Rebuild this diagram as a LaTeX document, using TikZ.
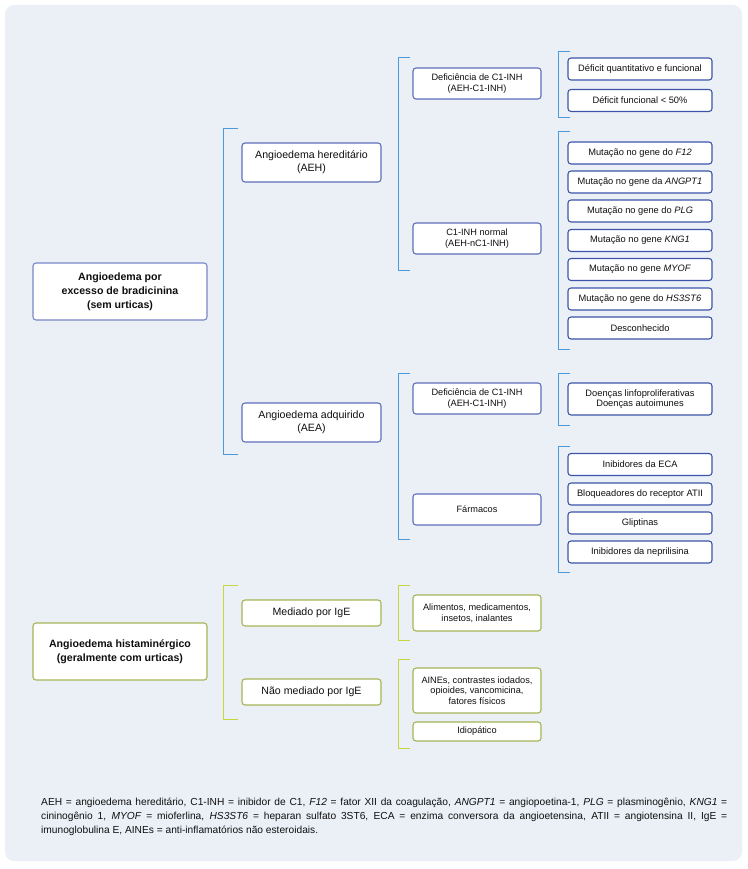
\documentclass[tikz,border=0pt]{standalone}
\usepackage{fontspec}
\setmainfont{Liberation Sans}
\definecolor{bg}{RGB}{235,240,247}
\definecolor{bluebox}{RGB}{95,110,185}
\definecolor{bluebox0}{RGB}{120,135,200}
\definecolor{bluebox3}{RGB}{60,85,170}
\definecolor{bluebr}{RGB}{75,155,220}
\definecolor{greenbox}{RGB}{165,180,85}
\definecolor{greenbr}{RGB}{198,214,62}
\definecolor{txt}{RGB}{15,15,15}
\tikzset{
  base/.style={fill=white, rounded corners=3pt, line width=1.1pt, align=center, inner sep=0pt, text=txt},
  lzero/.style={base, draw=bluebox0, minimum width=174pt, minimum height=57pt, font=\fontsize{10.6}{14}\selectfont\bfseries},
  lzerog/.style={base, draw=greenbox, minimum width=174pt, minimum height=57pt, font=\fontsize{10.6}{14}\selectfont\bfseries},
  lone/.style={base, draw=bluebox, minimum width=139pt, minimum height=39pt, font=\fontsize{10.6}{13.3}\selectfont},
  loneg/.style={base, draw=greenbox, minimum width=139pt, minimum height=26pt, font=\fontsize{10.6}{13.3}\selectfont},
  ltwo/.style={base, draw=bluebox, minimum width=128pt, minimum height=31pt, font=\fontsize{9.2}{10.7}\selectfont},
  ltwog/.style={base, draw=greenbox, minimum width=128pt, font=\fontsize{9.2}{10.7}\selectfont},
  lthree/.style={base, draw=bluebox3, minimum width=144pt, minimum height=22pt, font=\fontsize{9.3}{10.7}\selectfont},
  brb/.style={draw=bluebr, line width=1pt},
  brg/.style={draw=greenbr, line width=1pt},
}
% bracket: name, x, top, bottom, tick-end x, style
\newcommand{\mybrk}[6]{%
  \coordinate (#1a) at (#5,#3);
  \coordinate (#1b) at (#2,#3);
  \coordinate (#1c) at (#2,#4);
  \coordinate (#1d) at (#5,#4);
  \draw[#6] (#1a) -- (#1b) -- (#1c) -- (#1d);}
\begin{document}
\begin{tikzpicture}[x=1pt,y=-1pt]
\useasboundingbox (0,0) rectangle (747,869);
\fill[bg, rounded corners=9pt] (5,5) rectangle (742,861);

% level 0
\node[lzero] (bradi) at (120,291.5) {Angioedema por\\excesso de bradicinina\\(sem urticas)};
\node[lzerog] (hist) at (120,651.5) {Angioedema histaminérgico\\(geralmente com urticas)};

% level 1
\node[lone] (aeh) at (311.5,162.5) {Angioedema hereditário\\(AEH)};
\node[lone] (aea) at (311.5,422.5) {Angioedema adquirido\\(AEA)};
\node[loneg] (med) at (311.5,613) {Mediado por IgE};
\node[loneg] (nmed) at (311.5,692) {Não mediado por IgE};

% level 2
\node[ltwo] (defaeh) at (477,83.5) {Deficiência de C1-INH\\(AEH-C1-INH)};
\node[ltwo] (normal) at (477,238.5) {C1-INH normal\\(AEH-nC1-INH)};
\node[ltwo] (defaea) at (477,398.5) {Deficiência de C1-INH\\(AEH-C1-INH)};
\node[ltwo] (farm) at (477,509.5) {Fármacos};
\node[ltwog, minimum height=36pt] (alim) at (477,613) {Alimentos, medicamentos,\\insetos, inalantes};
\node[ltwog, minimum height=45pt] (aines) at (477,690.5) {AINEs, contrastes iodados,\\opioides, vancomicina,\\fatores físicos};
\node[ltwog, minimum height=19pt] (idio) at (477,731.5) {Idiopático};

% level 3
\node[lthree] (quant) at (640,69) {Déficit quantitativo e funcional};
\node[lthree] (func) at (640,100.5) {Déficit funcional < 50\%};
\node[lthree] (mf) at (640,153) {Mutação no gene do \textit{F12}};
\node[lthree] (ma) at (640,182) {Mutação no gene da \textit{ANGPT1}};
\node[lthree] (mp) at (640,211) {Mutação no gene do \textit{PLG}};
\node[lthree] (mk) at (640,240.5) {Mutação no gene \textit{KNG1}};
\node[lthree] (mm) at (640,269.5) {Mutação no gene \textit{MYOF}};
\node[lthree] (mh) at (640,299) {Mutação no gene do \textit{HS3ST6}};
\node[lthree] (desc) at (640,328) {Desconhecido};
\node[lthree, minimum height=32pt] (doen) at (640,399) {Doenças linfoproliferativas\\Doenças autoimunes};
\node[lthree] (eca) at (640,464.5) {Inibidores da ECA};
\node[lthree] (bloq) at (640,494) {Bloqueadores do receptor ATII};
\node[lthree] (glip) at (640,523) {Gliptinas};
\node[lthree] (nepr) at (640,552) {Inibidores da neprilisina};

% brackets
\mybrk{bA}{223}{129}{454}{238}{brb}
\mybrk{bB}{398}{58}{270}{410}{brb}
\mybrk{bC}{398}{373}{539}{410}{brb}
\mybrk{bD}{558}{52}{118}{570}{brb}
\mybrk{bE}{558}{132}{349}{570}{brb}
\mybrk{bF}{558}{373}{425}{570}{brb}
\mybrk{bG}{558}{446}{572}{570}{brb}
\mybrk{gA}{223}{585}{719}{238}{brg}
\mybrk{gB}{398}{585}{640}{410}{brg}
\mybrk{gC}{398}{659}{748}{410}{brg}

% footnote
\node[anchor=north west, inner sep=0pt, text=txt, align=justify, text width=686pt, font=\fontsize{10.2}{14}\selectfont] (foot) at (41,798)
{AEH = angioedema hereditário, C1-INH = inibidor de C1, \textit{F12} = fator XII da coagulação, \textit{ANGPT1} = angiopoetina-1, \textit{PLG} = plasminogênio, \textit{KNG1} =\linebreak
cininogênio 1, \textit{MYOF} = mioferlina, \textit{HS3ST6} = heparan sulfato 3ST6, ECA = enzima conversora da angioetensina, ATII = angiotensina II, IgE =\linebreak
imunoglobulina E, AINEs = anti-inflamatórios não esteroidais.};
\end{tikzpicture}
\end{document}
